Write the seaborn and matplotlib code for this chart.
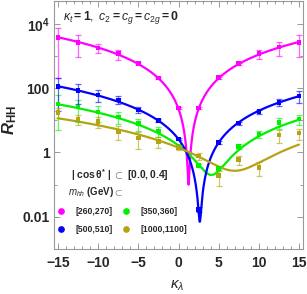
import numpy as np
import pandas as pd
import matplotlib
matplotlib.use("Agg")
import matplotlib.pyplot as plt
from matplotlib.lines import Line2D
from matplotlib.ticker import NullFormatter
import seaborn as sns

# kappa_lambda sample points
kappa = [-15, -12.5, -10, -7.5, -5, -2.5, 0, 2.5, 5, 7.5, 10, 12.5, 15]

bins = ["[260,270]", "[350,360]", "[500,510]", "[1000,1100]"]
colors = ["#ff00ff", "#00f000", "#0000ff", "#b5a312"]

# measured R_HH with errors
r_260 = [3800, 2640, 1780, 1170, 575, 207, 24, 24, 214, 573, 1170, 1870, 2640]
e_260 = [3600, 1700, 570, 400, 70, 15, 2, 2, 15, 50, 390, 870, 1700]
r_350 = [32, 25.6, 17.9, 12.5, 7.8, 4.6, 1.55, 0.4, 0.32, 1.55, 3.8, 8.5, 11]
e_350 = [27, 17, 9, 5, 3, 1.5, 0.2, 0.05, 0.05, 0.3, 1.0, 3, 4]
r_500 = [110, 83, 61, 43, 21, 9.8, 2.6, 0.017, 2.0, 8.2, 18.6, 36, 57]
e_500 = [90, 50, 25, 12, 4, 1.2, 0.2, 0.003, 0.2, 0.8, 3, 9, 22]
r_1000 = [17.4, 11, 9.1, 4.5, 2.8, 2.2, 1.4, 0.77, 0.19, 0.6, 0.34, 3.5, 4.0]
e_1000 = [6, 4, 3.5, 2, 1.5, 0.8, 0.2, 0.2, 0.1, 0.2, 0.15, 1.5, 1.5]

# quadratic fits: R = c * (k - k0)^2 + rmin
fit_c = [14.4, 0.0859, 0.367, 0.0233]
fit_k0 = [1.25, 4.1, 2.65, 7.0]
fit_min = [0.1, 0.2, 0.007, 0.27]

values = [r_260, r_350, r_500, r_1000]
errors = [e_260, e_350, e_500, e_1000]

pts = pd.concat([pd.DataFrame({"k": kappa, "R": v, "err": e, "bin": b})
                 for v, e, b in zip(values, errors, bins)])
kk = np.linspace(-15, 15, 1201)
curves = pd.concat([pd.DataFrame({"k": kk, "R": c * (kk - k0) ** 2 + m, "bin": b})
                    for c, k0, m, b in zip(fit_c, fit_k0, fit_min, bins)])
palette = dict(zip(bins, colors))

sns.set_style("ticks")
plt.rcParams["font.family"] = ["Liberation Sans", "DejaVu Sans"]
plt.rcParams["mathtext.fontset"] = "custom"
plt.rcParams["mathtext.rm"] = "Liberation Sans"
plt.rcParams["mathtext.it"] = "Liberation Sans:italic"
plt.rcParams["mathtext.bf"] = "Liberation Sans:bold"
plt.rcParams["mathtext.bfit"] = "Liberation Sans:bold:italic"

fig = plt.figure(figsize=(3.07, 2.94), dpi=100)
ax = fig.add_axes([54 / 307, 45 / 294, 249 / 307, 248 / 294])
ax.set_yscale("log")

sns.lineplot(data=curves, x="k", y="R", hue="bin", palette=palette,
             linewidth=1.6, legend=False, ax=ax, zorder=2)
for b, col in zip(bins, colors):
    d = pts[pts["bin"] == b]
    ax.errorbar(d["k"], d["R"], yerr=d["err"], fmt="none", ecolor=col,
                alpha=0.6, elinewidth=0.9, capsize=2, capthick=0.9, zorder=3)
sns.scatterplot(data=pts, x="k", y="R", hue="bin", palette=palette, marker="s",
                s=11, linewidth=0, legend=False, ax=ax, zorder=4)

ax.set_xlim(-15.5, 15.5)
ax.set_ylim(1.1e-3, 5.1e4)
ax.set_xticks([-15, -10, -5, 0, 5, 10, 15])
ax.set_xticklabels(["\u221215", "\u221210", "\u22125", "0", "5", "10", "15"])
ax.set_xticks(np.arange(-15, 16, 1), minor=True)
ax.set_yticks([1e-2, 1, 1e2, 1e4])
ax.set_yticklabels(["0.01", "1", "100", r"$\mathbf{10^4}$"])
ax.set_yticks([1e-3, 1e-1, 10, 1e3], minor=True)
ax.yaxis.set_minor_formatter(NullFormatter())
ax.tick_params(which="both", direction="in", top=True, right=True,
               color="#999999", labelsize=10, width=0.7)
ax.tick_params(which="major", length=4)
ax.tick_params(axis="x", which="major", pad=5)
ax.tick_params(axis="y", which="major", pad=3)
ax.tick_params(which="minor", length=2.5)
for lab in ax.get_xticklabels() + ax.get_yticklabels():
    lab.set_fontweight("bold")
for s in ax.spines.values():
    s.set_color("#999999")
    s.set_linewidth(0.8)

ax.set_xlabel(r"$\boldsymbol{\kappa_\lambda}$", fontsize=11)
ax.set_ylabel(r"$\boldsymbol{R}_{\mathbf{HH}}$", fontsize=12)
ax.xaxis.set_label_coords(0.494, -0.118)
ax.yaxis.set_label_coords(-0.14, 0.52)

ax.text(0.036, 0.935, r"$\boldsymbol{\kappa_t = 1,\ c_2 = c_g = c_{2g} = 0}$",
        transform=ax.transAxes, fontsize=8.8, va="center")
ax.text(0.068, 0.298, r"$\mathbf{|\ cos\,\theta^{*}\ |\ \subset\ [0.0,0.4]}$",
        transform=ax.transAxes, fontsize=7.4, va="center")
ax.text(0.056, 0.23, r"$\boldsymbol{m_{hh}}$ $\mathbf{(GeV)\subset}$",
        transform=ax.transAxes, fontsize=7, va="center")

order = [0, 2, 1, 3]
handles = [Line2D([], [], marker="o", linestyle="none", color=colors[i],
                  markersize=3.8) for i in order]
ax.legend(handles, [bins[i] for i in order], ncol=2, frameon=False,
          loc="center left", bbox_to_anchor=(0.012, 0.115),
          prop={"weight": "bold", "size": 6.2}, borderpad=0, borderaxespad=0,
          handletextpad=1.18, columnspacing=1.0, labelspacing=1.0, handlelength=1.0)

fig.savefig("out.png", dpi=100, facecolor="white")
